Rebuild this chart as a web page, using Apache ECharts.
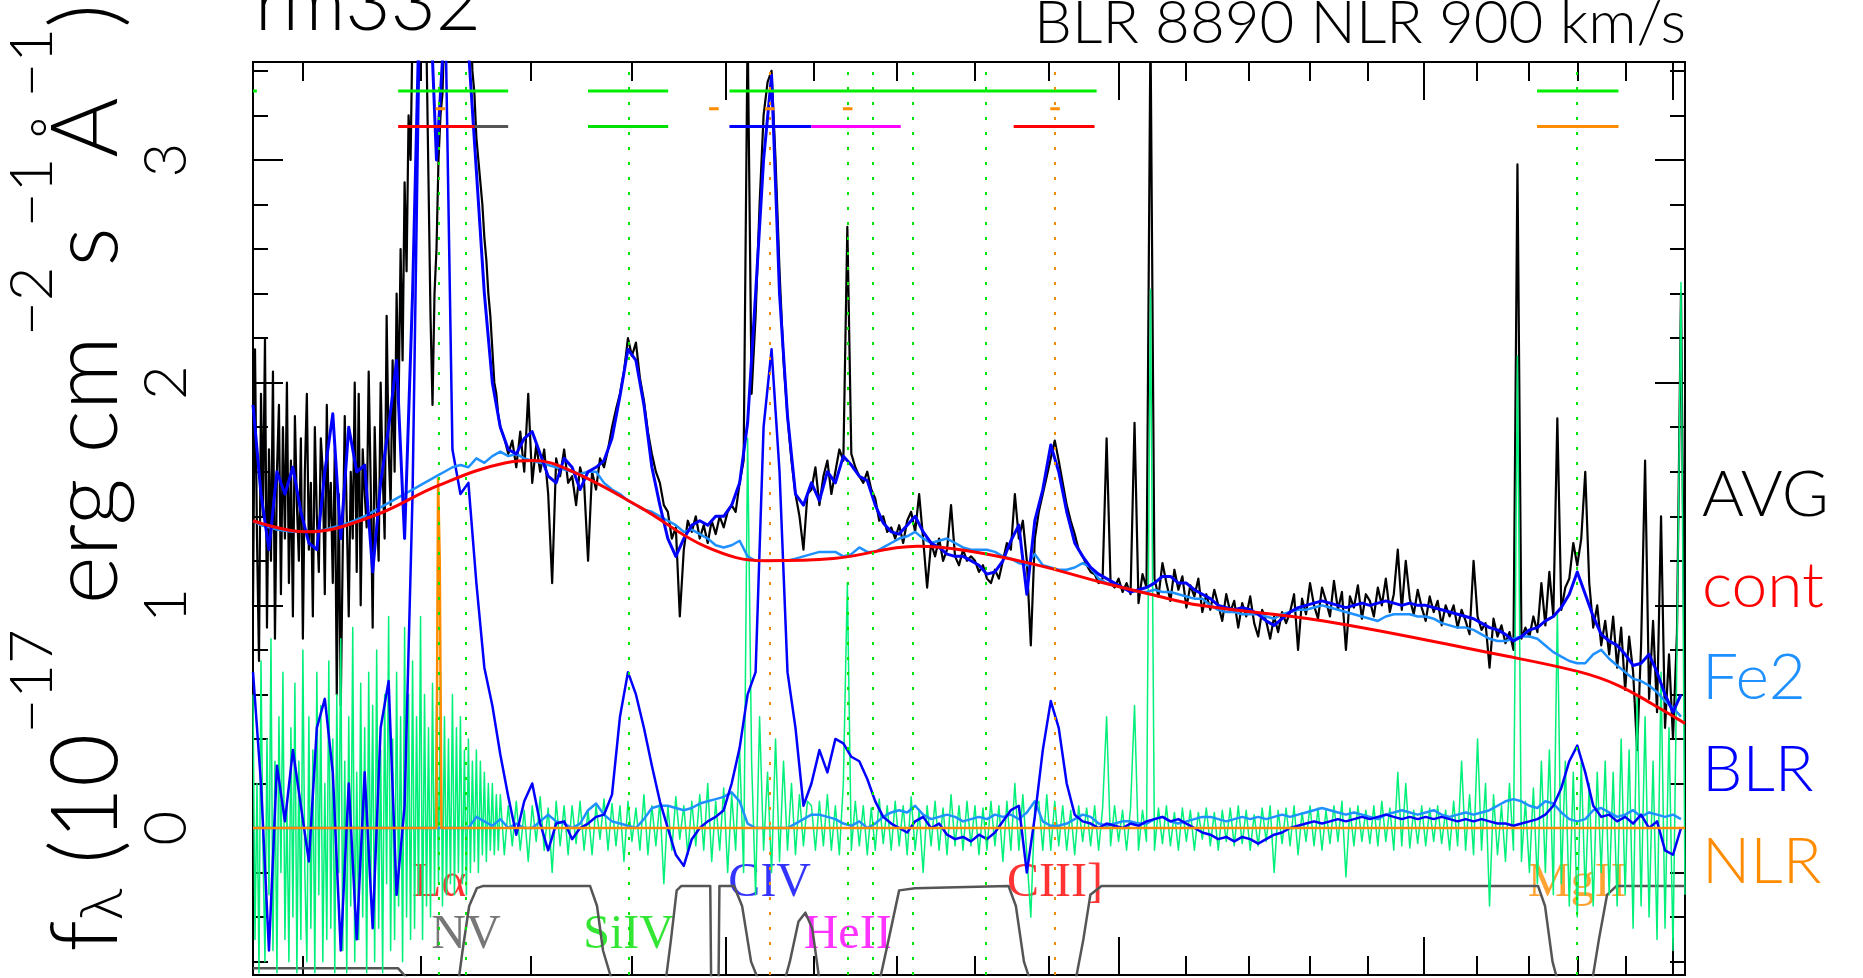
<!DOCTYPE html>
<html>
<head>
<meta charset="utf-8">
<script src="https://cdn.jsdelivr.net/npm/echarts@6/dist/echarts.min.js"></script>
<style>
  html, body { margin: 0; padding: 0; background: #fff; }
  #chart { width: 1863px; height: 978px; }
</style>
</head>
<body>
<div id="chart"></div>
<script>
// rest frame spectrum on a uniform log-lambda pixel grid
const logLamStart = 3.02572;
const logLamStep = 0.0012686;
// the noisy blue end (pixels 0 to 61.5) is read at half-pixel steps
const blueEndPixels = 62;

// observed average spectrum (AVG)
const avgBlueFlux = [
  1.0, 2.15, 1.3, 0.75, 1.95, 1.4, 2.2, 0.9, 1.7, 1.2, 2.05, 0.85, 1.6, 1.9, 1.05, 1.8, 1.3, 2.0, 1.1, 1.65,
  0.95, 1.85, 1.45, 1.2, 1.75, 0.85, 1.6, 1.95, 1.25, 1.55, 0.95, 1.8, 1.4, 1.15, 1.75, 1.6, 1.05, 1.9, 1.35, 1.55,
  1.1, 1.7, 0.6, 1.5, 0.55, 1.25, 1.85, 1.4, 0.95, 1.6, 1.3, 2.0, 1.15, 1.95, 1.0, 1.7, 1.5, 1.35, 2.05, 1.55,
  0.9, 1.8, 1.45, 1.2, 2.0, 1.6, 1.3, 2.3, 1.7, 1.45, 2.1, 1.6, 2.4, 1.9, 2.6, 2.1, 2.9, 2.5, 3.2, 3.0,
  3.6, 3.9, 3.8, 3.9, 3.9, 3.7, 3.9, 3.5, 2.9, 2.3, 1.9, 2.4, 2.6, 3.0, 3.2, 3.3, 3.6, 3.9, 3.9, 3.8,
  3.9, 3.7, 3.9, 3.6, 3.9, 3.8, 3.6, 3.9, 3.5, 3.7, 3.4, 3.3, 3.1, 3.0, 2.9, 2.8, 2.65, 2.55, 2.4, 2.3,
  2.15, 2.0, 1.95, 1.85
];
const avgFlux = [
  1.8, 1.75, 1.68, 1.74, 1.62, 1.78, 1.6, 1.95, 1.55, 1.72, 1.6, 1.7, 1.5, 1.1, 1.66, 1.58, 1.7, 1.55,
  1.58, 1.45, 1.62, 1.55, 1.2, 1.6, 1.52, 1.66, 1.62, 1.7, 1.8, 1.88, 1.95, 2.05, 2.2, 2.12, 2.18, 2.02, 1.92, 1.78,
  1.68, 1.6, 1.55, 1.45, 1.42, 1.3, 1.35, 0.95, 1.25, 1.38, 1.33, 1.4, 1.3, 1.36, 1.28, 1.38, 1.32, 1.4, 1.35, 1.42,
  1.45, 1.42, 1.55, 1.65, 3.6, 1.95, 2.3, 2.8, 3.2, 3.35, 3.4, 3.0, 2.5, 2.1, 1.85, 1.65, 1.5, 1.4, 1.25, 1.5,
  1.52, 1.62, 1.45, 1.58, 1.65, 1.5, 1.6, 1.7, 1.65, 2.7, 1.68, 1.62, 1.58, 1.55, 1.6, 1.52, 1.48, 1.38, 1.4, 1.33,
  1.35, 1.3, 1.36, 1.28, 1.38, 1.42, 1.33, 1.5, 1.3, 1.08, 1.28, 1.22, 1.3, 1.2, 1.25, 1.45, 1.22, 1.18, 1.25, 1.2,
  1.22, 1.2, 1.15, 1.18, 1.12, 1.1, 1.16, 1.12, 1.2, 1.28, 1.25, 1.5, 1.3, 1.38, 1.2, 0.82, 1.3, 1.42, 1.5, 1.58,
  1.66, 1.74, 1.65, 1.55, 1.45, 1.38, 1.32, 1.25, 1.22, 1.18, 1.15, 1.14, 1.1, 1.12, 1.75, 1.1, 1.08, 1.12, 1.06, 1.1,
  1.05, 1.82, 1.01, 1.14, 1.08, 3.6, 1.12, 1.04, 1.19, 1.1, 1.02, 1.16, 1.07, 1.13, 0.99, 1.09, 1.04, 1.12, 0.97, 1.05,
  0.98, 1.07, 1.0, 0.93, 1.05, 0.97, 1.02, 0.9, 1.01, 0.95, 1.04, 0.92, 0.86, 0.98, 0.93, 0.85, 0.95, 0.88, 0.97, 0.92,
  0.97, 1.05, 0.8, 1.03, 0.96, 1.1, 1.0, 0.94, 1.08, 1.02, 0.95, 1.11, 0.98, 1.06, 0.8, 1.04, 0.99, 1.09, 0.94, 1.05,
  1.02, 0.95, 1.08, 1.0, 1.12, 0.97, 1.05, 1.25, 0.98, 1.2, 1.03, 0.96, 1.07, 0.99, 0.93, 1.04, 0.97, 1.02, 0.91, 1.0,
  0.95, 1.0, 0.9, 0.98, 0.93, 0.87, 1.2, 0.95, 0.89, 0.92, 0.72, 0.94, 0.86, 0.91, 0.83, 0.88, 0.8, 2.98, 0.85, 0.9,
  0.86, 0.95, 0.88, 1.1, 0.91, 1.15, 0.95, 1.84, 0.98, 1.08, 1.12, 1.28, 1.18, 1.3, 1.6, 1.1, 0.9, 1.0, 0.82, 0.93,
  0.78, 0.95, 0.72, 0.9, 0.62, 0.86, 0.7, 0.35, 0.82, 1.65, 0.58, 0.93, 0.52, 1.4, 0.45, 0.78, 0.4, 0.88, 2.4, 0.5
];

// fit residual
const residBlueFlux = [
  0.6, -0.5, 0.2, -0.65, 0.75, -0.1, -0.6, 0.4, -0.3, 0.85, -0.55, 0.3, -0.65, 0.5, -0.2, 0.7, -0.5, 0.1, -0.6, 0.45,
  -0.4, 0.65, -0.65, 0.3, -0.5, 0.8, -0.2, -0.6, 0.5, -0.45, 0.35, -0.65, 0.7, -0.3, 0.55, -0.6, 0.2, -0.5, 0.75, -0.45,
  0.4, -0.65, 0.6, -0.2, 0.85, -0.55, 0.3, -0.65, 0.5, -0.35, 0.9, -0.6, 0.25, -0.5, 0.65, -0.4, 0.45, -0.65, 0.7, -0.3,
  0.55, -0.6, 0.8, -0.45, 0.35, -0.65, 0.6, -0.25, 0.95, -0.55, 0.4, -0.5, 0.7, -0.35, 0.5, -0.6, 0.9, -0.4, 0.6, -0.5,
  0.75, -0.45, 0.5, -0.3, 0.95, -0.5, 0.6, -0.35, 0.45, -0.4, 0.65, -0.3, 0.55, -0.25, 0.7, -0.35, 0.5, -0.3, 0.4, -0.25,
  0.6, -0.3, 0.45, -0.2, 0.5, -0.25, 0.35, -0.3, 0.4, -0.2, 0.3, -0.15, 0.35, -0.2, 0.3, -0.12, 0.25, -0.15, 0.2, -0.1,
  0.2, -0.12, 0.15, -0.1
];
const residFlux = [
  0.15, -0.12, 0.1, -0.08, 0.12, -0.1, 0.08, -0.15, 0.1, -0.06, 0.14, -0.1, 0.09, -0.2, 0.12, -0.08, 0.1, -0.12,
  0.1, -0.07, 0.12, -0.1, 0.08, -0.12, 0.1, -0.05, 0.13, -0.1, 0.11, -0.08, 0.1, -0.15, 0.12, -0.06, 0.09, -0.1, 0.15, -0.12,
  0.1, -0.08, 0.12, -0.25, 0.1, -0.1, 0.14, -0.05, 0.1, -0.12, 0.12, -0.08, 0.15, -0.1, 0.2, -0.15, 0.12, -0.1, 0.18, -0.2,
  0.15, -0.1, 0.35, -0.2, 1.75, 0.3, -0.3, 0.5, -0.1, 0.25, -0.2, 0.4, -0.15, 0.3, -0.1, 0.2, -0.12, 0.15, -0.08, 0.12,
  0.1, -0.1, 0.12, -0.08, 0.15, -0.1, 0.1, -0.12, 0.2, 1.1, -0.1, 0.12, -0.08, 0.1, -0.12, 0.09, -0.1, 0.13, -0.07, 0.1,
  -0.1, 0.12, -0.08, 0.1, -0.12, 0.14, -0.1, 0.08, -0.2, 0.1, -0.08, 0.12, -0.1, 0.09, -0.12, 0.15, -0.08, 0.1, -0.1, 0.12,
  -0.08, 0.1, -0.12, 0.09, -0.1, 0.12, -0.08, 0.1, -0.15, 0.12, -0.1, 0.2, -0.1, 0.15, -0.12, -0.4, 0.1, 0.12, -0.1, 0.15,
  -0.1, 0.12, -0.08, 0.1, -0.1, 0.08, -0.12, 0.1, -0.06, 0.09, -0.08, 0.1, -0.1, 0.09, 0.5, -0.08, 0.1, -0.06, 0.08, -0.1,
  0.09, 0.55, -0.1, 0.08, -0.06, 2.42, -0.1, 0.09, -0.07, 0.1, -0.08, 0.07, -0.1, 0.09, -0.06, 0.08, -0.1, 0.07, -0.05, 0.09,
  -0.08, 0.07, -0.1, 0.08, -0.06, 0.09, -0.08, 0.1, -0.07, 0.08, -0.1, 0.06, -0.08, 0.09, -0.06, 0.1, -0.2, 0.08, -0.07, 0.09,
  -0.08, 0.1, -0.12, 0.07, -0.06, 0.1, -0.08, 0.09, -0.1, 0.08, -0.07, 0.1, -0.06, 0.12, -0.22, 0.09, -0.08, 0.1, -0.06, 0.08,
  -0.07, 0.1, -0.08, 0.12, -0.06, 0.09, -0.1, 0.25, -0.08, 0.2, -0.09, 0.08, -0.07, 0.1, -0.08, 0.09, -0.06, 0.1, -0.07, 0.08,
  -0.1, 0.12, -0.08, 0.3, -0.1, 0.15, -0.12, 0.4, -0.1, 0.2, -0.35, 0.15, -0.12, 0.1, -0.15, 0.2, -0.1, 2.12, -0.15, 0.12,
  -0.2, 0.18, -0.25, 0.3, -0.2, 0.35, -0.3, 0.97, -0.25, 0.3, -0.35, 0.25, -0.4, 0.3, -0.3, 0.2, -0.35, 0.25, -0.2, 0.3,
  -0.3, 0.25, -0.35, 0.4, -0.3, 0.35, -0.45, 0.6, -0.35, 0.5, -0.4, 0.3, -0.5, 0.7, -0.45, 0.45, -0.55, 0.8, 2.45, -0.3
];

// model components, every second pixel
const modelFlux = [
  1.9, 1.5, 1.25, 1.6, 1.5, 1.62, 1.42, 1.28, 1.25, 1.6, 1.86, 1.3, 1.8, 1.6, 1.63, 1.15, 1.55, 1.8, 2.1, 1.3,
  2.4, 3.9, 3.9, 3.0, 3.6, 3.9, 3.8, 3.5, 2.95, 2.4, 2.0, 1.8, 1.7, 1.68, 1.75, 1.78, 1.68, 1.58, 1.55, 1.66,
  1.62, 1.52, 1.6, 1.62, 1.65, 1.75, 1.94, 2.15, 2.1, 1.9, 1.62, 1.45, 1.3, 1.22, 1.3, 1.36, 1.38, 1.36, 1.4, 1.4,
  1.45, 1.55, 1.82, 2.4, 3.0, 3.38, 2.4, 1.85, 1.5, 1.45, 1.55, 1.47, 1.6, 1.55, 1.67, 1.63, 1.58, 1.56, 1.45, 1.37,
  1.33, 1.32, 1.36, 1.4, 1.33, 1.28, 1.26, 1.23, 1.22, 1.22, 1.2, 1.18, 1.14, 1.15, 1.2, 1.29, 1.36, 1.05, 1.38, 1.52,
  1.72, 1.6, 1.42, 1.28, 1.22, 1.17, 1.14, 1.12, 1.1, 1.08, 1.06, 1.07, 1.08, 1.1, 1.13, 1.13, 1.1, 1.1, 1.07, 1.05,
  1.03, 1.0, 0.99, 0.98, 0.99, 0.98, 0.96, 0.93, 0.91, 0.94, 0.97, 0.99, 1.0, 1.01, 1.02, 1.01, 1.0, 0.99, 1.0, 1.01,
  1.0, 1.01, 1.02, 1.01, 1.0, 1.01, 1.0, 1.0, 0.99, 0.98, 0.97, 0.96, 0.95, 0.94, 0.92, 0.9, 0.89, 0.87, 0.84, 0.86,
  0.89, 0.9, 0.93, 0.95, 0.99, 1.05, 1.15, 1.05, 0.95, 0.87, 0.84, 0.82, 0.78, 0.73, 0.74, 0.78, 0.7, 0.6, 0.52, 0.6
];
const contFe2Flux = [
  1.38, 1.36, 1.35, 1.34, 1.335, 1.33, 1.33, 1.33, 1.335, 1.34, 1.35, 1.36, 1.37, 1.385, 1.4, 1.42, 1.44, 1.46, 1.48, 1.5,
  1.52, 1.54, 1.56, 1.58, 1.6, 1.62, 1.63, 1.62, 1.66, 1.64, 1.67, 1.69, 1.67, 1.68, 1.66, 1.65, 1.64, 1.63, 1.62, 1.61,
  1.6, 1.59, 1.6, 1.6, 1.55, 1.52, 1.5, 1.47, 1.45, 1.43, 1.42, 1.4, 1.38, 1.36, 1.33, 1.34, 1.32, 1.3, 1.27, 1.26,
  1.27, 1.29, 1.22, 1.2, 1.2, 1.2, 1.2, 1.2, 1.21, 1.22, 1.23, 1.24, 1.24, 1.24, 1.22, 1.23, 1.26, 1.24, 1.24, 1.26,
  1.28, 1.3, 1.31, 1.33, 1.3, 1.28, 1.29, 1.3, 1.28, 1.26, 1.25, 1.25, 1.25, 1.24, 1.22, 1.21, 1.19, 1.18, 1.23, 1.18,
  1.17, 1.16, 1.16, 1.17, 1.19, 1.17, 1.12, 1.1, 1.09, 1.08, 1.07, 1.06, 1.06, 1.07, 1.06, 1.06, 1.05, 1.04, 1.03, 1.03,
  1.0, 0.98, 0.97, 0.97, 0.96, 0.96, 0.96, 0.95, 0.94, 0.96, 0.97, 0.98, 0.98, 0.99, 1.0, 0.99, 0.98, 0.97, 0.96, 0.95,
  0.94, 0.93, 0.95, 0.96, 0.96, 0.96, 0.95, 0.95, 0.94, 0.92, 0.91, 0.9, 0.9, 0.89, 0.87, 0.85, 0.84, 0.84, 0.85, 0.86,
  0.86, 0.85, 0.82, 0.79, 0.77, 0.75, 0.74, 0.74, 0.78, 0.8, 0.76, 0.73, 0.7, 0.67, 0.66, 0.64, 0.61, 0.57, 0.54, 0.5
];
const blrFlux = [
  0.7, 0.2, -0.55, 0.28, 0.03, 0.35, 0.1, -0.15, 0.45, 0.58, 0.25, -0.55, 0.2, -0.5, 0.25, -0.45, 0.45, 0.66, -0.3, 0.1,
  1.5, 3.9, 3.9, 3.9, 3.9, 1.7, 1.5, 1.55, 1.1, 0.72, 0.55, 0.33, 0.14, -0.03, 0.12, 0.2, 0.02, -0.1, 0.02, 0.03,
  -0.05, 0.0, 0.02, 0.05, 0.06, 0.15, 0.5, 0.7, 0.6, 0.45, 0.28, 0.12, 0.0, -0.12, -0.17, -0.05, 0.0, 0.03, 0.05, 0.08,
  0.2, 0.36, 0.6, 0.7, 1.8, 2.15, 1.6, 0.7, 0.45, 0.1, 0.2, 0.35, 0.25, 0.4, 0.38, 0.32, 0.3, 0.22, 0.12, 0.05,
  0.02, 0.0, -0.02, 0.03, 0.05, 0.0, 0.02, -0.03, -0.05, -0.04, -0.06, -0.03, -0.05, -0.02, 0.03, 0.08, 0.1, -0.2, 0.05, 0.35,
  0.57, 0.45, 0.2, 0.06, 0.03, 0.02, 0.0, 0.02, 0.01, 0.0, 0.02, 0.01, 0.03, 0.04, 0.05, 0.03, 0.04, 0.02, 0.0, -0.02,
  -0.03, -0.05, -0.04, -0.06, -0.04, -0.05, -0.07, -0.05, -0.03, -0.02, 0.0, 0.01, 0.02, 0.03, 0.02, 0.03, 0.04, 0.03, 0.04, 0.05,
  0.04, 0.05, 0.06, 0.05, 0.04, 0.05, 0.04, 0.05, 0.04, 0.05, 0.04, 0.03, 0.04, 0.03, 0.04, 0.03, 0.02, 0.02, 0.01, 0.02,
  0.03, 0.04, 0.06, 0.1, 0.18, 0.3, 0.37, 0.25, 0.1, 0.05, 0.06, 0.03, 0.05, 0.02, 0.06, 0.0, 0.03, -0.1, -0.12, 0.0
];
const fe2Flux = [
  0, 0, 0, 0, 0, 0, 0, 0, 0, 0, 0, 0, 0, 0, 0, 0, 0, 0, 0, 0,
  0, 0, 0, 0, 0, 0, 0, 0, 0.05, 0.03, 0.01, 0.04, 0.0, 0.02, 0.0, 0.0, 0.03, 0.06, 0.03, 0.02,
  0.0, 0.02, 0.08, 0.11, 0.06, 0.03, 0.02, 0.01, 0.0, 0.04, 0.09, 0.1, 0.1, 0.09, 0.08, 0.09, 0.11, 0.12, 0.13, 0.14,
  0.16, 0.12, 0.02, 0.0, 0.0, 0.0, 0.0, 0.0, 0.02, 0.04, 0.06, 0.06, 0.05, 0.04, 0.02, 0.01, 0.03, 0.0, 0.02, 0.05,
  0.07, 0.08, 0.07, 0.1, 0.06, 0.04, 0.05, 0.06, 0.05, 0.03, 0.04, 0.05, 0.04, 0.06, 0.05, 0.06, 0.04, 0.07, 0.12, 0.03,
  0.01, 0.01, 0.02, 0.04, 0.06, 0.05, 0.02, 0.01, 0.02, 0.03, 0.03, 0.02, 0.02, 0.04, 0.05, 0.03, 0.02, 0.03, 0.04, 0.05,
  0.05, 0.04, 0.03, 0.04, 0.05, 0.04, 0.05, 0.04, 0.05, 0.06, 0.05, 0.06, 0.07, 0.08, 0.09, 0.08, 0.07, 0.06, 0.07, 0.06,
  0.05, 0.04, 0.06, 0.07, 0.08, 0.07, 0.06, 0.07, 0.08, 0.06, 0.05, 0.06, 0.07, 0.06, 0.07, 0.08, 0.1, 0.12, 0.13, 0.12,
  0.1, 0.09, 0.12, 0.11, 0.07, 0.04, 0.03, 0.04, 0.08, 0.09, 0.07, 0.05, 0.06, 0.08, 0.05, 0.07, 0.06, 0.05, 0.06, 0.04
];

// continuum (angstrom, flux)
const contWave = [1061, 1103, 1158, 1216, 1277, 1303, 1341, 1409, 1480, 1545, 1623, 1726, 1790, 1879, 1973, 2047, 2123, 2324, 2639, 2805, 2884, 2958, 3028];
const contFlux = [1.38, 1.33, 1.40, 1.54, 1.64, 1.65, 1.60, 1.44, 1.26, 1.20, 1.21, 1.265, 1.245, 1.185, 1.105, 1.05, 1.0, 0.93, 0.78, 0.70, 0.64, 0.555, 0.47];

// narrow line component
const nlrWave = [1061, 1213.5, 1215, 1216.5, 1218, 3028];
const nlrFlux = [0, 0, 1.57, 1.2, 0, 0];

// fitting mask, drawn below the spectrum
const maskWave = [1061, 1180, 1187, 1195, 1233, 1237, 1243, 1250, 1256, 1358, 1365, 1371, 1381, 1435, 1441, 1447, 1452,
  1483, 1484, 1492, 1493, 1509, 1518, 1528, 1538, 1565, 1572, 1582, 1590, 1598, 1607, 1678, 1690, 1703, 1723, 1845,
  1855, 1866, 1876, 1937, 1949, 1959, 1975, 2719, 2733, 2748, 2760, 2828, 2843, 2860, 2880, 3028];
const maskLevel = [-0.63, -0.63, -0.67, -0.70, -0.70, -0.55, -0.35, -0.27, -0.26, -0.26, -0.35, -0.55, -0.70, -0.70, -0.5, -0.28, -0.26,
  -0.26, -0.70, -0.70, -0.26, -0.26, -0.35, -0.6, -0.70, -0.70, -0.6, -0.42, -0.38, -0.45, -0.70, -0.70, -0.5, -0.28, -0.27, -0.26,
  -0.35, -0.6, -0.70, -0.70, -0.5, -0.3, -0.26, -0.26, -0.35, -0.6, -0.70, -0.70, -0.5, -0.3, -0.26, -0.26];

// emission lines
const greenLineWave = [1216, 1240, 1397, 1549, 1640, 1671, 1720, 1814, 2798];
const orangeLineWave = [1549, 1909];
const labelText = ['Lα', 'NV', 'SiIV', 'CIV', 'HeII', 'CIII]', 'MgII'];
const labelWave = [1216, 1240, 1397, 1549, 1640, 1909, 2798];
const labelFlux = [-0.25, -0.48, -0.48, -0.25, -0.48, -0.25, -0.25];
const labelColor = ['#ff0000', '#555555', '#00e000', '#0000ff', '#ff00ff', '#ff0000', '#ff8c00'];

// fitting windows drawn across the top
const fitRangeRow = 3.31;
const fitRanges = [[1061, 1064], [1180, 1279], [1356, 1438], [1504, 1968], [2717, 2884]];
const nlrMarkRow = 3.23;
const nlrMarks = [1217, 1487, 1549, 1640, 1909];
const lineWindowRow = 3.15;
const lineWindows = [[1180, 1248], [1248, 1279], [1356, 1438], [1504, 1597], [1597, 1705], [1852, 1965], [2717, 2884]];
const lineWindowColor = ['#ff0000', '#555555', '#00e000', '#0000ff', '#ff00ff', '#ff0000', '#ff8c00'];

// axis ticks
const xMinorTicks = [1100, 1200, 1300, 1400, 1600, 1700, 1800, 1900, 2100, 2200, 2300, 2400, 2600, 2700, 2800, 2900];
const xMajorTicks = [1500, 2000, 2500, 3000];
const yMinorTicks = [-0.6, -0.4, -0.2, 0.2, 0.4, 0.6, 0.8, 1.2, 1.4, 1.6, 1.8, 2.2, 2.4, 2.6, 2.8, 3.2, 3.4];
const yMajorTicks = [0, 1, 2, 3];

const legendNames = ['AVG', 'cont', 'Fe2', 'BLR', 'NLR'];
const legendColors = ['#000000', '#ff0000', '#1e90ff', '#0000ff', '#ff8c00'];

const lg = Math.log10;
const blueX = (k) => logLamStart + k * logLamStep / 2;
const fineX = (i) => logLamStart + (blueEndPixels + i) * logLamStep;
const coarseX = (j) => logLamStart + 2 * j * logLamStep;
const onPixels = (blue, rest) => blue.map((y, k) => [blueX(k), y]).concat(rest.map((y, i) => [fineX(i), y]));
const onCoarse = (ys) => ys.map((y, j) => [coarseX(j), y]);
const onWave = (ws, ys) => ys.map((y, i) => [lg(ws[i]), y]);

const thinFont = 'Lato, "Open Sans", "DejaVu Sans", sans-serif';

function line(name, data, color, width, extra) {
  return Object.assign({
    name, type: 'line', data, showSymbol: false, symbol: 'none', silent: true,
    animation: false, xAxisIndex: 0, yAxisIndex: 0,
    lineStyle: { color, width, join: 'round' }
  }, extra || {});
}

function vLines(waves, color) {
  return {
    type: 'line', data: [], silent: true, animation: false, xAxisIndex: 0, yAxisIndex: 0,
    markLine: {
      symbol: 'none', silent: true, animation: false, precision: 8, label: { show: false },
      lineStyle: { color, width: 2, type: [3, 12] },
      data: waves.map((w) => ({ xAxis: lg(w) }))
    }
  };
}

function xAxis(position, ticks, len) {
  return {
    type: 'value', position, min: lg(1061), max: lg(3028),
    axisLine: { show: true, onZero: false, lineStyle: { color: '#000', width: 2 } },
    axisTick: { show: true, inside: true, length: len, customValues: ticks.map(lg), lineStyle: { color: '#000', width: 2 } },
    axisLabel: { show: false }, splitLine: { show: false }
  };
}

function yAxis(position, ticks, len, labels) {
  return {
    type: 'value', position, min: -0.66, max: 3.44,
    axisLine: { show: true, onZero: false, lineStyle: { color: '#000', width: 2 } },
    axisTick: { show: true, inside: true, length: len, customValues: ticks, lineStyle: { color: '#000', width: 2 } },
    axisLabel: labels ? {
      show: true, customValues: yMajorTicks, rotate: 90, margin: 56,
      fontSize: 60, fontFamily: thinFont, fontWeight: 300, color: '#000'
    } : { show: false },
    splitLine: { show: false }
  };
}

const series = [
  vLines(greenLineWave, '#00e600'),
  vLines(orangeLineWave, '#f08c00'),
  line('mask', onWave(maskWave, maskLevel), '#555555', 2.5),
  line('AVG', onPixels(avgBlueFlux, avgFlux), '#000000', 2.2),
  line('resid', onPixels(residBlueFlux, residFlux), '#00f07a', 1.5),
  line('Fe2 only', onCoarse(fe2Flux), '#1e90ff', 2.5),
  line('BLR only', onCoarse(blrFlux), '#0000ff', 2.5),
  line('NLR', onWave(nlrWave, nlrFlux), '#ff8c00', 2.5),
  line('Fe2', onCoarse(contFe2Flux), '#1e90ff', 2.5),
  line('BLR', onCoarse(modelFlux), '#0000ff', 3),
  line('cont', onWave(contWave, contFlux), '#ff0000', 3, { smooth: 0.4 })
];

fitRanges.forEach((r) => series.push(line('fit', r.map((w) => [lg(w), fitRangeRow]), '#00ee00', 3)));
nlrMarks.forEach((w) => series.push(line('nlrmark', [[lg(w * 0.9965), nlrMarkRow], [lg(w * 1.0035), nlrMarkRow]], '#ff8c00', 3)));
lineWindows.forEach((r, k) => series.push(line('win', r.map((w) => [lg(w), lineWindowRow]), lineWindowColor[k], 3)));

series.push({
  type: 'scatter', silent: true, animation: false, symbolSize: 1,
  itemStyle: { color: 'rgba(0,0,0,0)' },
  data: labelText.map((t, k) => ({
    value: [lg(labelWave[k]), labelFlux[k]],
    label: {
      show: true, position: 'inside', formatter: t, color: labelColor[k],
      fontFamily: '"Liberation Serif", "DejaVu Serif", serif', fontSize: 48
    }
  }))
});

const graphic = [
  { type: 'text', x: 255, y: 5, style: { text: 'rm332', font: '300 78px ' + thinFont, fill: '#000', align: 'left', verticalAlign: 'middle' } },
  { type: 'text', x: 1686, y: 24, style: { text: 'BLR 8890 NLR 900 km/s', font: '300 60px ' + thinFont, fill: '#000', align: 'right', verticalAlign: 'middle' } },
  {
    type: 'text', x: 68, y: 478, rotation: Math.PI / 2,
    style: {
      text: '{n|f}{sub|λ}{n| (10}{sup|−17}{n| erg cm}{sup|−2}{n|s}{sup|−1}{n|Å}{sup|−1}{n|)}',
      align: 'center', verticalAlign: 'middle', fill: '#000',
      rich: {
        n: { fontSize: 92, fontFamily: thinFont, fontWeight: 300, lineHeight: 130, verticalAlign: 'bottom' },
        sup: { fontSize: 60, fontFamily: thinFont, fontWeight: 300, lineHeight: 75, verticalAlign: 'top' },
        sub: { fontSize: 60, fontFamily: thinFont, fontWeight: 300, lineHeight: 20, verticalAlign: 'bottom' }
      }
    }
  }
];
legendNames.forEach((name, k) => {
  graphic.push({ type: 'text', x: 1702, y: 495 + k * 91.8, style: { text: name, font: '300 64px ' + thinFont, fill: legendColors[k], align: 'left', verticalAlign: 'middle' } });
});

const chart = echarts.init(document.getElementById('chart'));
chart.setOption({
  animation: false,
  backgroundColor: '#ffffff',
  grid: { left: 253, right: 178, top: 62, bottom: 3, containLabel: false },
  xAxis: [
    xAxis('bottom', xMinorTicks, 19),
    xAxis('bottom', xMajorTicks, 38),
    xAxis('top', xMinorTicks, 19),
    xAxis('top', xMajorTicks, 38)
  ],
  yAxis: [
    yAxis('left', yMinorTicks, 15, true),
    yAxis('left', yMajorTicks, 30, false),
    yAxis('right', yMinorTicks, 15, false),
    yAxis('right', yMajorTicks, 30, false)
  ],
  series,
  graphic
});
</script>
</body>
</html>
